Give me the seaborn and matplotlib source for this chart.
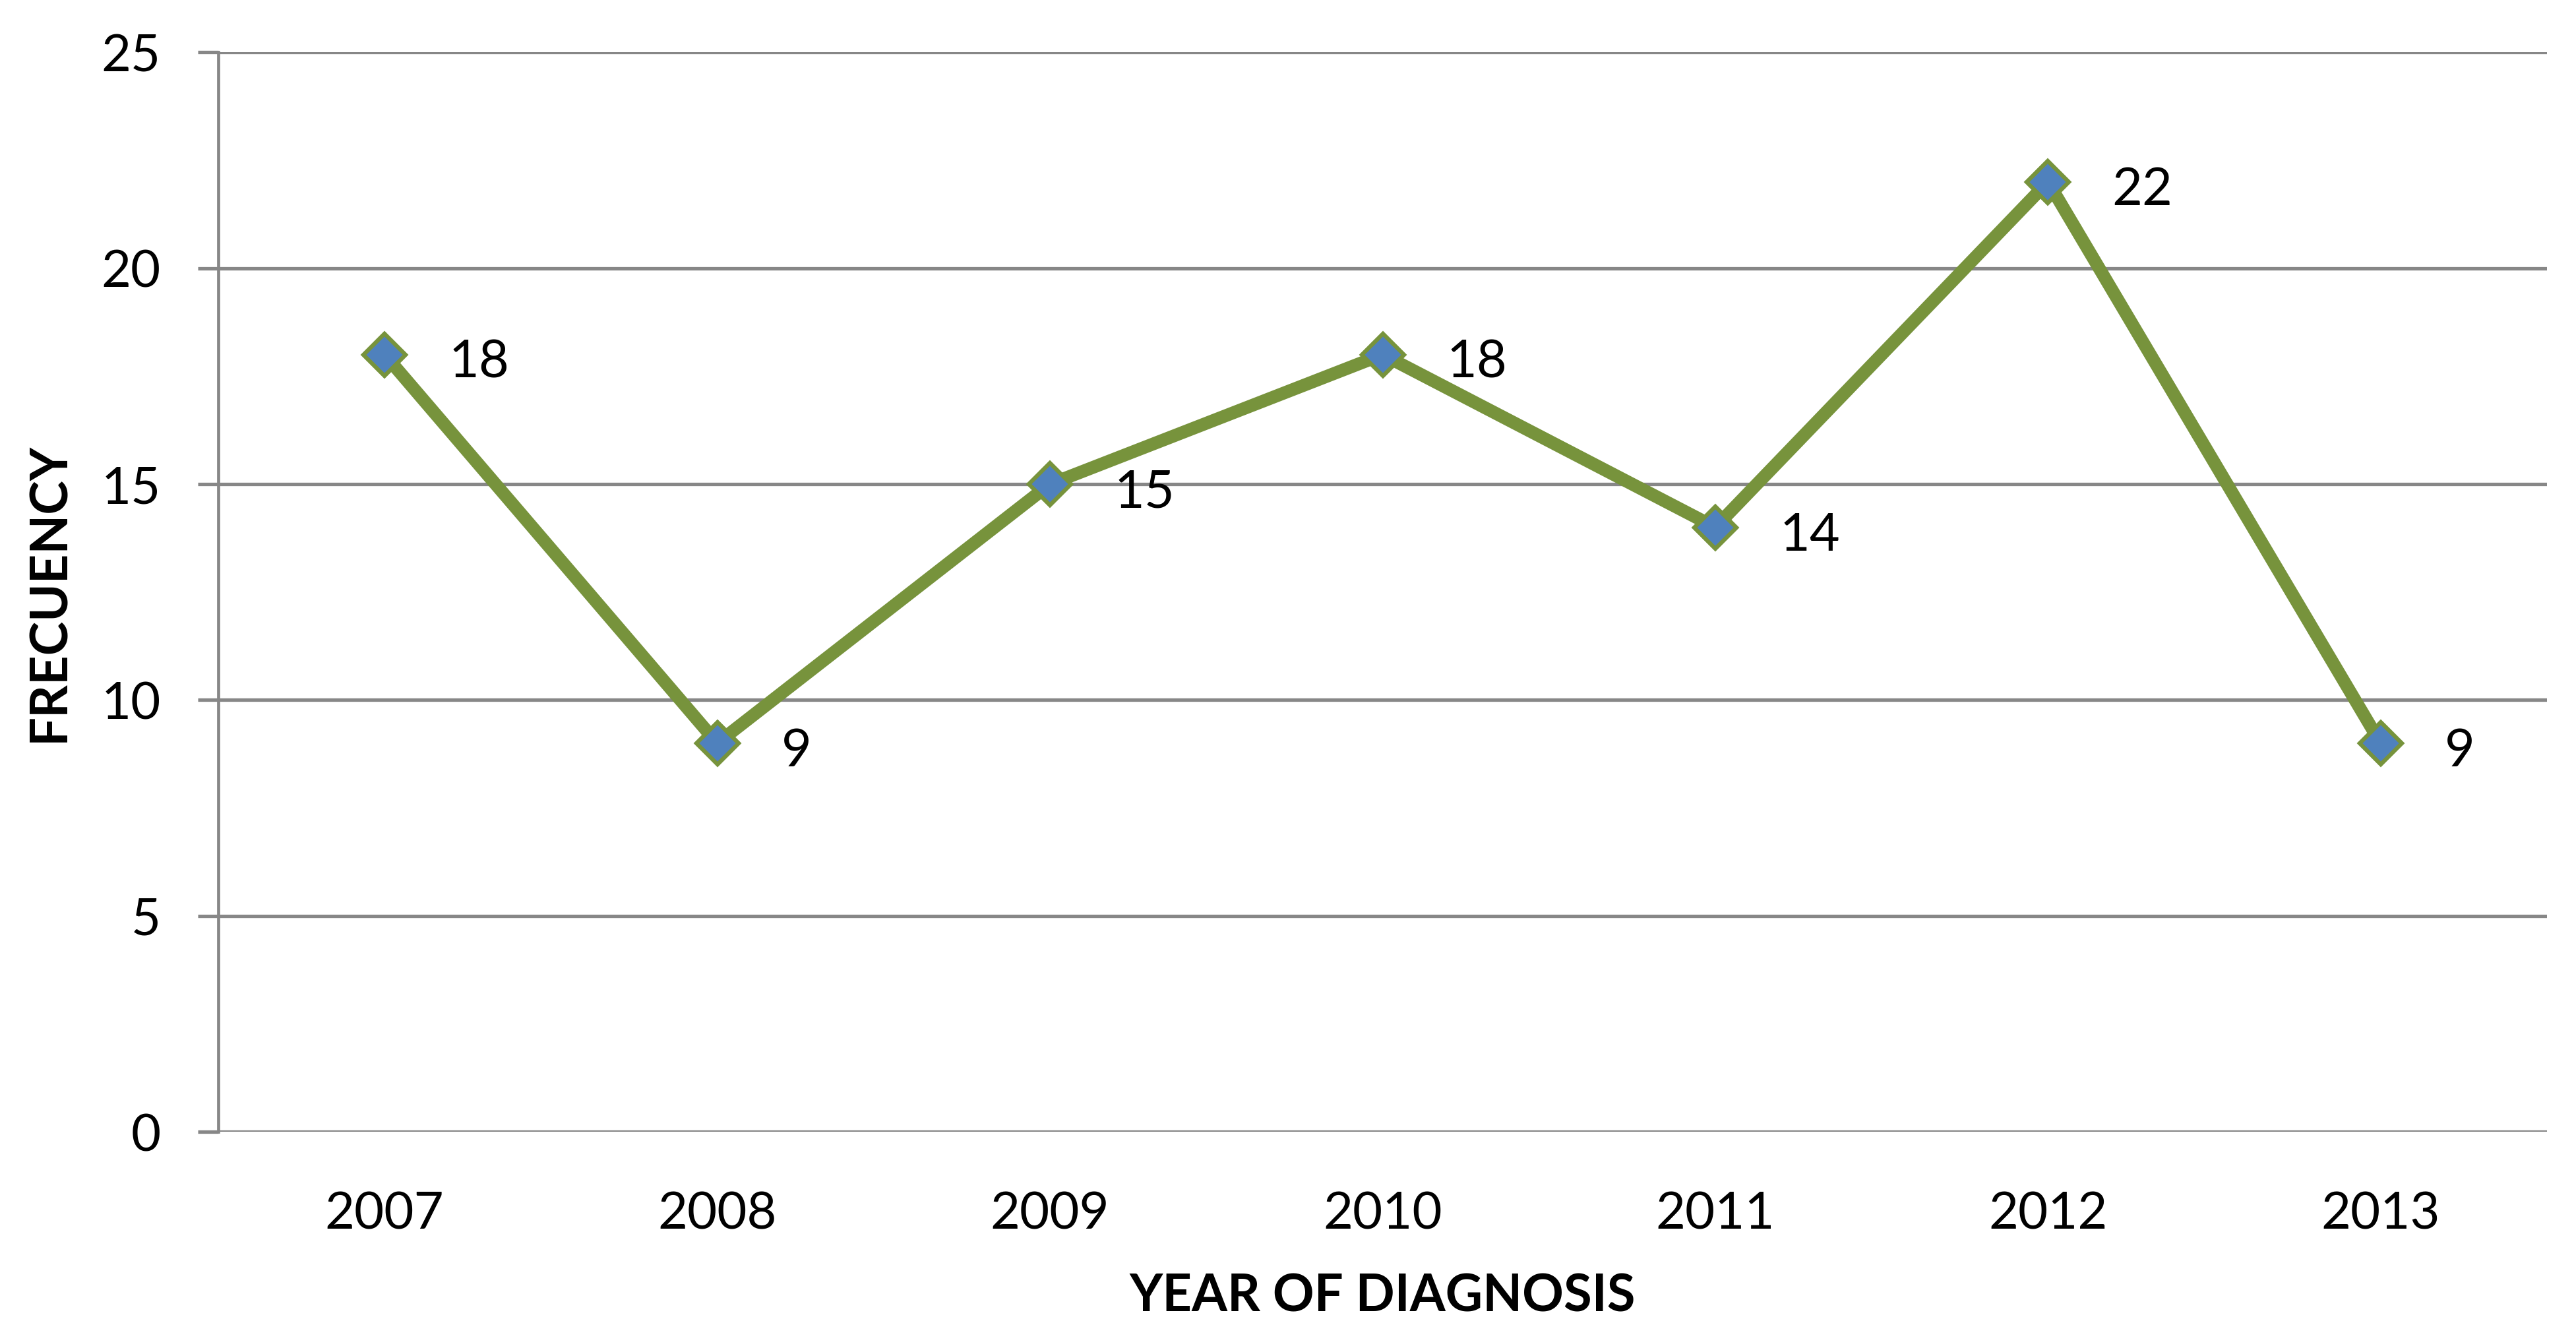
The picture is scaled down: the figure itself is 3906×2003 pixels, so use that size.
import matplotlib
matplotlib.use("Agg")
import matplotlib.pyplot as plt
import seaborn as sns
import pandas as pd

years = ["2007", "2008", "2009", "2010", "2011", "2012", "2013"]
frequency = [18, 9, 15, 18, 14, 22, 9]
y_ticks = [0, 5, 10, 15, 20, 25]
x_label = "YEAR OF DIAGNOSIS"
y_label = "FRECUENCY"

LINE_GREEN = "#77933C"
MARKER_BLUE = "#4F81BD"
GRID_GRAY = "#878787"

sns.set_theme(style="white")
plt.rcParams["font.family"] = ["Lato", "DejaVu Sans"]

df = pd.DataFrame({"year": years, "freq": frequency})

W, H, DPI = 3906, 2004, 100
fig = plt.figure(figsize=(W / DPI, (H - 0.4) / DPI), dpi=DPI)
ax = fig.add_axes([331 / W, 1 - 1717 / H, (3862 - 331) / W, (1717 - 80) / H])

sns.pointplot(
    data=df, x="year", y="freq", order=years, ax=ax,
    errorbar=None, color=LINE_GREEN, markers="D",
    linewidth=14, markersize=33, markeredgewidth=4.5,
    markerfacecolor=MARKER_BLUE, markeredgecolor=LINE_GREEN,
    zorder=5,
)

ax.set_ylim(0, 25)
ax.set_xlim(-0.5, len(years) - 0.5)
ax.set_yticks(y_ticks)
ax.set_yticklabels([str(t) for t in y_ticks])

ax.yaxis.grid(True, color=GRID_GRAY, linewidth=3.8)
ax.xaxis.grid(False)
ax.set_axisbelow(True)

for s in ["top", "right", "bottom"]:
    ax.spines[s].set_visible(False)
ax.spines["left"].set_color(GRID_GRAY)
ax.spines["left"].set_linewidth(3.4)

ax.tick_params(axis="y", which="major", left=True, length=22, width=3.8,
               color=GRID_GRAY, pad=41, labelsize=56, labelcolor="black")
ax.tick_params(axis="x", which="major", bottom=False, length=0, pad=65,
               labelsize=56, labelcolor="black")

ax.set_xlabel(x_label, fontsize=56, fontweight="bold", labelpad=38, color="black")
ax.set_ylabel(y_label, fontsize=56, fontweight="bold", labelpad=30, color="black")

for yr, v in zip(years, frequency):
    ax.annotate(str(v), (yr, v), xytext=(70, -9), textcoords="offset points",
                ha="left", va="center", fontsize=57, color="black", zorder=6)

fig.savefig("out.png", dpi=DPI, facecolor="white")
